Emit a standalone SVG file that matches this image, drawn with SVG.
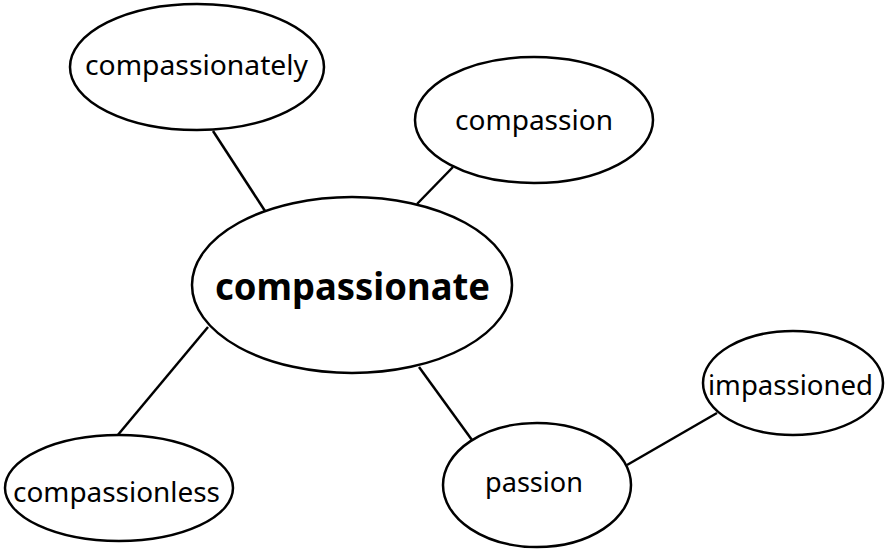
<svg xmlns="http://www.w3.org/2000/svg" width="886" height="550" viewBox="0 0 886 550">
  <style>
    .node ellipse { fill: #ffffff; stroke: #000000; stroke-width: 2.5; }
    .edges line { stroke: #000000; stroke-width: 2.5; stroke-linecap: butt; }
    .label { font-family: "Noto Sans", "Open Sans", sans-serif; font-size: 28px; fill: #000000; text-anchor: middle; }
    .main { font-family: "Noto Sans", "Open Sans", sans-serif; font-size: 38px; font-weight: bold; fill: #000000; text-anchor: middle; }
  </style>
  <rect width="886" height="550" fill="#ffffff"/>

  <!-- connectors -->
  <g id="edges" class="edges">
    <line x1="213" y1="131" x2="265" y2="211"/>
    <line x1="453" y1="167" x2="417" y2="204"/>
    <line x1="208" y1="327" x2="117" y2="436"/>
    <line x1="419" y1="367" x2="472" y2="440"/>
    <line x1="627" y1="465" x2="717" y2="413"/>
  </g>

  <g id="compassionate" class="node">
    <ellipse cx="352" cy="285" rx="160" ry="88"/>
    <text class="main" x="352.5" y="300" textLength="275" lengthAdjust="spacingAndGlyphs">compassionate</text>
  </g>

  <g id="compassionately" class="node">
    <ellipse cx="197" cy="67" rx="127" ry="63"/>
    <text class="label" x="196.5" y="75" textLength="223" lengthAdjust="spacingAndGlyphs">compassionately</text>
  </g>

  <g id="compassion" class="node">
    <ellipse cx="534" cy="120" rx="119" ry="63"/>
    <text class="label" x="534" y="130" textLength="158" lengthAdjust="spacingAndGlyphs">compassion</text>
  </g>

  <g id="compassionless" class="node">
    <ellipse cx="119" cy="488" rx="114" ry="53"/>
    <text class="label" x="116.5" y="502" textLength="207" lengthAdjust="spacingAndGlyphs">compassionless</text>
  </g>

  <g id="passion" class="node">
    <ellipse cx="537" cy="485" rx="94" ry="62"/>
    <text class="label" x="534" y="492" textLength="98" lengthAdjust="spacingAndGlyphs">passion</text>
  </g>

  <g id="impassioned" class="node">
    <ellipse cx="793" cy="383" rx="90" ry="52"/>
    <text class="label" x="790.5" y="395" textLength="165" lengthAdjust="spacingAndGlyphs">impassioned</text>
  </g>
</svg>
